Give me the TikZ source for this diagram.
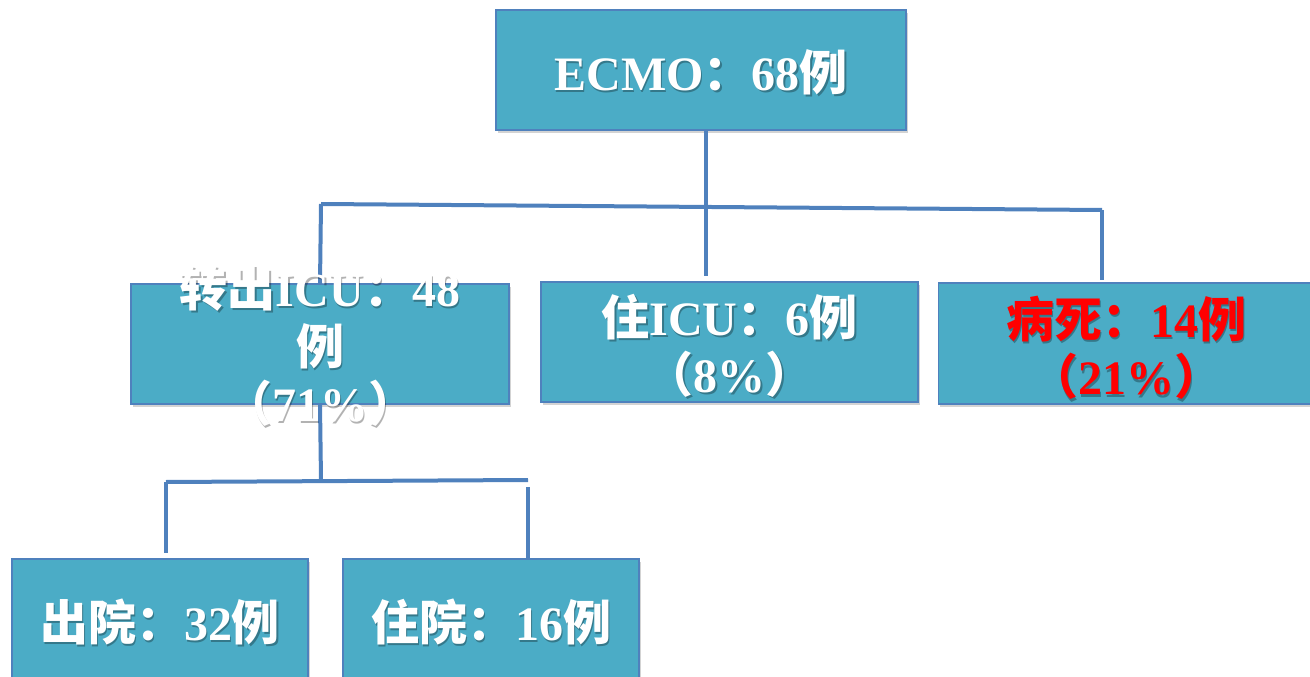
\documentclass[tikz,border=0pt]{standalone}
\usepackage{fontspec}
\setmainfont{Liberation Serif}
\newfontfamily\cjk{Noto Sans CJK SC}
\usetikzlibrary{shadows}
\definecolor{boxfill}{HTML}{4BACC6}
\definecolor{boxline}{HTML}{4F81BD}
\definecolor{connc}{HTML}{4F81BD}
\newcommand\zh[1]{{\cjk #1}}
\tikzset{
  box/.style={draw=boxline, line width=1pt, fill=boxfill, inner sep=0pt,
    drop shadow={opacity=0.35, shadow xshift=1.5pt, shadow yshift=-2.5pt}},
  txt/.style={text=white, font=\bfseries\fontsize{36}{43}\selectfont, align=center, inner sep=0pt},
  redtxt/.style={txt, text=red},
  shtxt/.style={txt, text=black, opacity=0.3, xshift=1.2pt, yshift=-1.6pt},
  conn/.style={draw=connc, line width=3pt}
}
\newcommand\stext[4]{%
  \node[shtxt] (#1s) at (#2) {#4};
  \node[#3] (#1) at (#2) {#4};}
\begin{document}
\begin{tikzpicture}[x=0.75pt,y=-0.75pt]
\useasboundingbox (0,0) rectangle (1310,677);
% connector coordinates
\coordinate (m1) at (706,276);
\coordinate (hL) at (321,204);
\coordinate (hR) at (1102,210);
\coordinate (r1) at (1102,280);
\coordinate (m2) at (321,480);
\coordinate (hL2) at (166,482);
\coordinate (hR2) at (528,480);
\coordinate (hR2b) at (528,487);
\coordinate (l2end) at (166,553);
\coordinate (r2end) at (528,558);
% boxes
\node[box, minimum width=307.5pt, minimum height=90pt] (top) at (701,70) {};
\node[box, minimum width=283.5pt, minimum height=90pt] (b1) at (320,344) {};
\node[box, minimum width=282.75pt, minimum height=90pt] (b2) at (729.5,342) {};
\node[box, minimum width=280pt, minimum height=90.75pt] (b3) at (1125,343.5) {};
\node[box, minimum width=222pt, minimum height=94.5pt] (b4) at (160,622) {};
\node[box, minimum width=222pt, minimum height=94.5pt] (b5) at (491,622) {};
% connectors
\draw[conn] ([xshift=3.75pt]top.south) -- (m1);
\draw[conn] (hL) -- (hR);
\draw[conn] (hL) -- (b1.north);
\draw[conn] (hR) -- (r1);
\draw[conn] (b1.south) -- (m2);
\draw[conn] (hL2) -- (hR2);
\draw[conn] (hL2) -- (l2end);
\draw[conn] (hR2b) -- (r2end);
% texts
\coordinate (p0) at (701,72);
\coordinate (p1) at (320,346);
\coordinate (p2) at (729.5,346);
\coordinate (p3) at (1126,348);
\coordinate (p4) at (160,622);
\coordinate (p5) at (491,622);
\stext{t0}{p0}{txt}{ECMO\zh{：}68\zh{例}}
\stext{t1}{p1}{txt}{\zh{转出}ICU\zh{：}48\\\zh{例}\\\zh{（}71\%\zh{）}}
\stext{t2}{p2}{txt}{\zh{住}ICU\zh{：}6\zh{例}\\\zh{（}8\%\zh{）}}
\stext{t3}{p3}{redtxt}{\zh{病死：}14\zh{例}\\\zh{（}21\%\zh{）}}
\stext{t4}{p4}{txt}{\zh{出院：}32\zh{例}}
\stext{t5}{p5}{txt}{\zh{住院：}16\zh{例}}
\end{tikzpicture}
\end{document}
